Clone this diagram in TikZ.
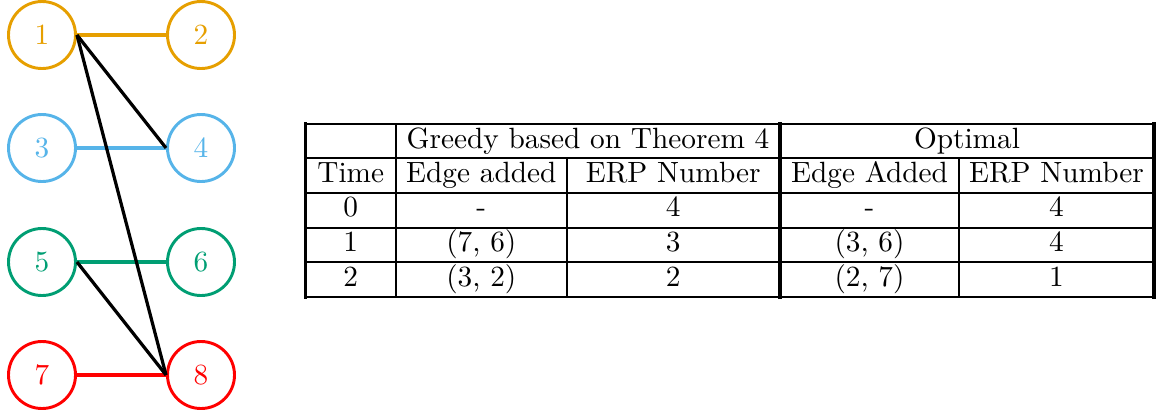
\documentclass[tikz,border=0pt]{standalone}
\definecolor{corange}{HTML}{E69F00}
\definecolor{cblue}{HTML}{56B4E9}
\definecolor{cgreen}{HTML}{009E73}
\definecolor{cred}{HTML}{FF0000}
\begin{document}
\begin{tikzpicture}[x=0.3413pt,y=-0.3413pt,
  vtx/.style={circle,draw,line width=1pt,minimum size=22.87pt,inner sep=0pt},
  edg/.style={line width=1.1pt},
  thinrule/.style={line width=0.8pt,line cap=rect},
  thickrule/.style={line width=1.1pt,line cap=rect},
  cell/.style={anchor=base,inner sep=0pt}]
\useasboundingbox (0,0) rectangle (1159,412);
% graph
\node[vtx,draw=corange,text=corange] (n1) at (42,35) {1};
\node[vtx,draw=corange,text=corange] (n2) at (201,35) {2};
\node[vtx,draw=cblue,text=cblue] (n3) at (42,148) {3};
\node[vtx,draw=cblue,text=cblue] (n4) at (201,148) {4};
\node[vtx,draw=cgreen,text=cgreen] (n5) at (42,262) {5};
\node[vtx,draw=cgreen,text=cgreen] (n6) at (201,262) {6};
\node[vtx,draw=cred,text=cred] (n7) at (42,375) {7};
\node[vtx,draw=cred,text=cred] (n8) at (201,375) {8};
\draw[edg,corange] (n1.east) -- (n2.west);
\draw[edg,cblue] (n3.east) -- (n4.west);
\draw[edg,cgreen] (n5.east) -- (n6.west);
\draw[edg,cred] (n7.east) -- (n8.west);
\draw[edg,black] (n1.east) -- (n4.west);
\draw[edg,black] (n1.east) -- (n8.west);
\draw[edg,black] (n5.east) -- (n8.west);
% table rules
\foreach \yy in {124,158,193,228,262,297}
  \draw[thinrule] (305.5,\yy) -- (1154,\yy);
\draw[thinrule] (396,124) -- (396,297);
\draw[thinrule] (566.7,158) -- (566.7,297);
\draw[thinrule] (959,158) -- (959,297);
\draw[thickrule] (305.5,124) -- (305.5,297);
\draw[thickrule] (780,124) -- (780,297);
\draw[thickrule] (1154,124) -- (1154,297);
% table text
\node[cell] (h1) at (588,148) {Greedy based on Theorem 4};
\node[cell] (h2) at (967,148) {Optimal};
\node[cell] (t0) at (350.75,182) {Time};
\node[cell] (t1) at (481.3,182) {Edge added};
\node[cell] (t2) at (673.3,182) {ERP Number};
\node[cell] (t3) at (869.5,182) {Edge Added};
\node[cell] (t4) at (1056.5,182) {ERP Number};
\node[cell] (a0) at (350.75,216.5) {0};
\node[cell] (a1) at (481.3,216.5) {-};
\node[cell] (a2) at (673.3,216.5) {4};
\node[cell] (a3) at (869.5,216.5) {-};
\node[cell] (a4) at (1056.5,216.5) {4};
\node[cell] (b0) at (350.75,251) {1};
\node[cell] (b1) at (481.3,251) {(7, 6)};
\node[cell] (b2) at (673.3,251) {3};
\node[cell] (b3) at (869.5,251) {(3, 6)};
\node[cell] (b4) at (1056.5,251) {4};
\node[cell] (c0) at (350.75,286) {2};
\node[cell] (c1) at (481.3,286) {(3, 2)};
\node[cell] (c2) at (673.3,286) {2};
\node[cell] (c3) at (869.5,286) {(2, 7)};
\node[cell] (c4) at (1056.5,286) {1};
\end{tikzpicture}
\end{document}
